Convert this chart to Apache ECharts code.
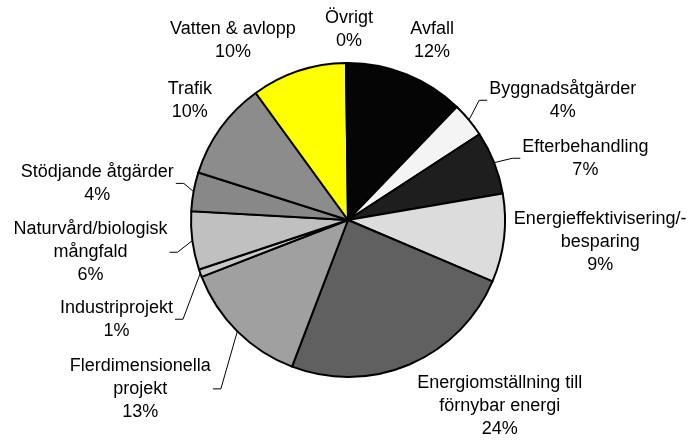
<!DOCTYPE html>
<html>
<head>
<meta charset="utf-8">
<script src="https://cdn.jsdelivr.net/npm/echarts@6/dist/echarts.min.js"></script>
<style>
  html, body { margin: 0; padding: 0; background: #fff; }
  #chart { width: 691px; height: 444px; }
</style>
</head>
<body>
<div id="chart"></div>
<script>
// categories in drawing order (clockwise from top)
const categories = [
  'Avfall',
  'Byggnadsåtgärder',
  'Efterbehandling',
  'Energieffektivisering/-\nbesparing',
  'Energiomställning till\nförnybar energi',
  'Flerdimensionella\nprojekt',
  'Industriprojekt',
  'Naturvård/biologisk\nmångfald',
  'Stödjande åtgärder',
  'Trafik',
  'Vatten & avlopp',
  'Övrigt'
]
// share of total, percent
const shares = [12.2, 3.6, 6.5, 9.1, 24.4, 13.3, 0.8, 6.0, 4.0, 10.1, 9.8, 0.2]
const colors = [
  '#050505', '#f4f4f4', '#1e1e1e', '#dcdcdc', '#606060', '#a0a0a0',
  '#c8c8c8', '#c0c0c0', '#888888', '#8c8c8c', '#ffff00', '#ffffff'
]
// which labels have a leader line
const withLine = [false, true, true, false, false, true, true, true, true, false, false, false]
// nudges of each label away from the default outside spot
const nudgeX = [-16, -4, 2, -17, -12, -3, -1, 2, 7, 16, 16, 41]
const nudgeY = [-23, -12, 0, 2, 31, 49, 42, 10, -6, -21, -19, -21]

const chart = echarts.init(document.getElementById('chart'))

const data = categories.map(function (name, i) {
  return {
    name: name,
    value: shares[i],
    itemStyle: { color: colors[i] },
    labelLine: { show: withLine[i] }
  }
})

chart.setOption({
  backgroundColor: '#ffffff',
  animation: false,
  series: [{
    type: 'pie',
    center: [348, 220],
    radius: 157,
    startAngle: 90,
    clockwise: true,
    avoidLabelOverlap: false,
    itemStyle: {
      borderColor: '#000',
      borderWidth: 2
    },
    label: {
      show: true,
      position: 'outside',
      color: '#000',
      fontFamily: 'Liberation Sans, Arial',
      fontSize: 18,
      lineHeight: 23,
      formatter(p) {
        return p.name + '\n' + Math.round(p.percent) + '%'
      }
    },
    labelLine: {
      length: 12,
      length2: 10,
      lineStyle: { color: '#000', width: 1 }
    },
    labelLayout(p) {
      const i = p.dataIndex
      const r = p.labelRect
      const cx = r.x + r.width / 2 + nudgeX[i]
      const cy = r.y + r.height / 2 + nudgeY[i]
      const anchor = p.labelLinePoints ? p.labelLinePoints[0] : [cx, cy]
      const side = cx > anchor[0] ? 1 : -1
      const edge = side > 0 ? cx - r.width / 2 - 2 : cx + r.width / 2 + 2
      return {
        x: cx,
        y: cy,
        align: 'center',
        verticalAlign: 'middle',
        labelLinePoints: [anchor, [edge - side * 8, cy], [edge, cy]]
      }
    },
    data: data
  }]
})
</script>
</body>
</html>
